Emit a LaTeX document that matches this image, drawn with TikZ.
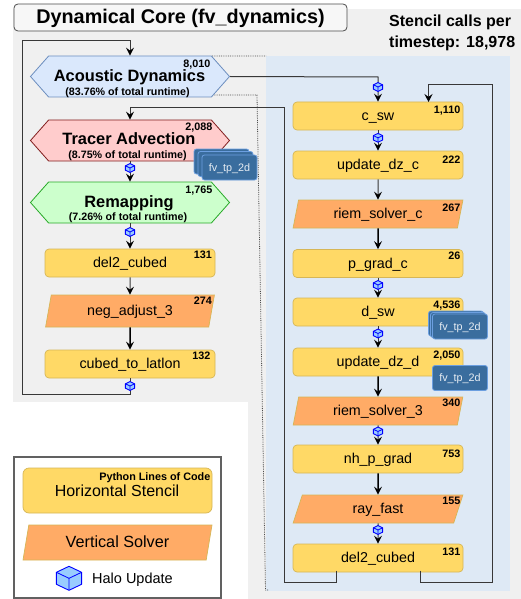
\documentclass[tikz,border=0pt]{standalone}
\usepackage{fontspec}
\setmainfont{Liberation Sans}
\usetikzlibrary{arrows.meta,shapes.geometric,shapes.symbols}
\definecolor{bgG}{HTML}{F0F0F0}
\definecolor{bgB}{HTML}{DEE9F5}
\definecolor{yel}{HTML}{FFD966}
\definecolor{yelS}{HTML}{D6B656}
\definecolor{ora}{HTML}{FFAB66}
\definecolor{fvF}{HTML}{3A6D9E}
\definecolor{fvS}{HTML}{6C9FE0}
\definecolor{cubeF}{HTML}{99CCFF}
\definecolor{cubeS}{HTML}{0000FF}
\definecolor{acF}{HTML}{DAE8FC}
\definecolor{acS}{HTML}{6C8EBF}
\definecolor{trF}{HTML}{FFCCCC}
\definecolor{trS}{HTML}{821E1E}
\definecolor{reF}{HTML}{CCFFCC}
\definecolor{reS}{HTML}{28AA28}
\newcommand{\fsz}[1]{\fontsize{#1}{#1}\selectfont}
\tikzset{
  x=1pt,y=-1pt,
  hstencil/.style={rectangle,rounded corners=4pt,draw=yelS,fill=yel,line width=.7pt,minimum width=170pt,minimum height=28pt,inner sep=0pt,font=\fsz{14.3},text height=9.5pt,text depth=0pt},
  vsolver/.style={trapezium,trapezium left angle=72,trapezium right angle=108,trapezium stretches=true,draw=yelS,fill=ora,line width=.7pt,minimum width=170pt,minimum height=28pt,inner sep=0pt,font=\fsz{14.3},text height=9.5pt,text depth=0pt},
  hexa/.style={signal,signal to=west and east,signal pointer angle=97,line width=.8pt,minimum width=199pt,minimum height=41pt,inner sep=0pt},
  hexlabel/.style={font=\bfseries\fsz{16.4},inner sep=0pt,text height=11.5pt,text depth=0pt},
  runtime/.style={font=\bfseries\fsz{10.7},inner sep=0pt,text height=7.5pt,text depth=0pt},
  count/.style={font=\bfseries\fsz{10.8},anchor=east,inner sep=0pt,text height=7.5pt,text depth=0pt},
  fvcard/.style={rectangle,rounded corners=2.5pt,draw=fvS,fill=fvF,line width=.8pt,minimum width=55pt,minimum height=25pt,inner sep=0pt,text=white!88!fvF,font=\fsz{10.8},text height=7.5pt,text depth=0pt},
  conn/.style={draw=black!78,line width=1pt,-{Stealth[length=8pt,width=8pt,inset=3pt,color=black]}},
  thickconn/.style={draw=black,line width=1.5pt,-{Stealth[length=8pt,width=8pt,inset=3pt,color=black]}},
  halo/.pic={
    \draw[draw=cubeS,fill=cubeF,line width=.9pt,line join=round] (0,-1)--(.87,-.5)--(.87,.5)--(0,1)--(-.87,.5)--(-.87,-.5)--cycle;
    \draw[draw=cubeS,line width=.8pt,line join=round] (-.87,-.5)--(0,0)--(.87,-.5) (0,0)--(0,1);
  }
}
\begin{document}
\begin{tikzpicture}
\useasboundingbox (0,0) rectangle (521,599);
% backgrounds
\fill[bgG] (13,9) rectangle (521,402);
\fill[bgG] (248,402) rectangle (521,599);
\fill[bgB] (266,56) rectangle (510,591);
\node[draw=black!70,fill=white!97!black,rounded corners=4pt,line width=.8pt,minimum width=333pt,minimum height=27pt,inner sep=0pt,font=\bfseries\fsz{19.8},text height=13pt,text depth=0pt] (title) at (180.5,17.5) {Dynamical Core (fv\_dynamics)};
\node[anchor=north west,align=left,inner sep=0pt,font=\bfseries\fsz{16}] (stencils) at (389,15) {Stencil calls per\\[4.6pt]timestep: 18,978};
% dotted outline of the zoom
\coordinate (dotA) at (212,56); \coordinate (dotB) at (266,56);
\coordinate (dotC) at (212,95); \coordinate (dotD) at (257,95); \coordinate (dotE) at (265.5,590); \coordinate (dotF) at (268,590);
\draw[black!70,densely dotted,line width=.8pt] (dotA)--(dotB) (dotC)--(dotD)--(dotE)--(dotF);
% left column
\node[hexa,draw=acS,fill=acF] (acoustic) at (130,76.5) {};
\node[hexa,draw=trS,fill=trF] (tracer) at (130,140.5) {};
\node[hexa,draw=reS,fill=reF] (remap) at (130,202.5) {};
\node[hexlabel] (acousticT) at (129.5,76) {Acoustic Dynamics};
\node[hexlabel] (tracerT) at (129,138.5) {Tracer Advection};
\node[hexlabel] (remapT) at (129,201.5) {Remapping};
\node[runtime] (acousticR) at (127.5,92.2) {(83.76\% of total runtime)};
\node[runtime] (tracerR) at (127.5,155.2) {(8.75\% of total runtime)};
\node[runtime] (remapR) at (128,217.2) {(7.26\% of total runtime)};
\node[count] (acousticN) at (210.5,63.5) {8,010};
\node[count] (tracerN) at (212.5,127) {2,088};
\node[count] (remapN) at (212.5,190.2) {1,765};
\node[hstencil] (del) at (130,263) {del2\_cubed};
\node[vsolver,minimum height=32pt] (neg) at (130,311) {neg\_adjust\_3};
\node[hstencil] (latlon) at (130,364) {cubed\_to\_latlon};
\node[count] (delN) at (212,255.2) {131};
\node[count] (negN) at (212,301.2) {274};
\node[count] (latlonN) at (210.5,356.2) {132};
% right column
\node[hstencil] (csw) at (378,116) {c\_sw};
\node[hstencil] (udzc) at (378,165) {update\_dz\_c};
\node[vsolver] (riemc) at (378,214) {riem\_solver\_c};
\node[hstencil] (pgrad) at (378,263.5) {p\_grad\_c};
\node[hstencil] (dsw) at (378,312) {d\_sw};
\node[hstencil] (udzd) at (378,362) {update\_dz\_d};
\node[vsolver] (riem3) at (378,411) {riem\_solver\_3};
\node[hstencil] (nh) at (378,459) {nh\_p\_grad};
\node[vsolver] (ray) at (378,509) {ray\_fast};
\node[hstencil] (delr) at (378,558) {del2\_cubed};
\node[count] (cswN) at (460.5,110.2) {1,110};
\node[count] (udzcN) at (460.5,159.5) {222};
\node[count] (riemcN) at (460.5,207.3) {267};
\node[count] (pgradN) at (460.5,256.2) {26};
\node[count] (dswN) at (460.5,305.2) {4,536};
\node[count] (udzdN) at (460.5,354.5) {2,050};
\node[count] (riem3N) at (460.5,403) {340};
\node[count] (nhN) at (460.5,453.5) {753};
\node[count] (rayN) at (460.5,500.3) {155};
\node[count] (delrN) at (460.5,551.3) {131};
% connector corners
\coordinate (loopA) at (22,394); \coordinate (loopB) at (22,41); \coordinate (loopC) at (130,41);
\coordinate (outR) at (378,77);
\coordinate (retA) at (336,570.5); \coordinate (retB) at (336,582); \coordinate (retC) at (284,582); \coordinate (retD) at (284,108); \coordinate (retE) at (130,108);
\coordinate (recA) at (420.5,570.5); \coordinate (recB) at (420.5,582); \coordinate (recC) at (492,582); \coordinate (recD) at (492,84.5); \coordinate (recE) at (428.5,84.5); \coordinate (recF) at (428.5,102);
\coordinate (latB) at (130,394);
% connectors
\draw[conn] (latlon.south) -- (latB) -- (loopA) -- (loopB) -- (loopC) -- (acoustic.north);
\draw[conn] (acoustic.east) -- (outR) -- (csw.north);
\draw[conn] (retA) -- (retB) -- (retC) -- (retD) -- (retE) -- (tracer.north);
\draw[conn] (recA) -- (recB) -- (recC) -- (recD) -- (recE) -- (recF);
\draw[conn] (tracer.south) -- (remap.north);
\draw[conn] (remap.south) -- (del.north);
\draw[conn] (del.south) -- (neg.north);
\draw[thickconn] (neg.south) -- (latlon.north);
\draw[conn] (csw.south) -- (udzc.north);
\draw[conn] (udzc.south) -- (riemc.north);
\draw[thickconn] (riemc.south) -- (pgrad.north);
\draw[conn] (pgrad.south) -- (dsw.north);
\draw[conn] (dsw.south) -- (udzd.north);
\draw[thickconn] (udzd.south) -- (riem3.north);
\draw[conn] (riem3.south) -- (nh.north);
\draw[thickconn] (nh.south) -- (ray.north);
\draw[conn] (ray.south) -- (delr.north);
% halo cubes
\foreach \cx/\cy in {130/168,130/232,130/386,378/87,378/137.8,378/285,378/333.5,378/431.5,378/530}
  \pic[xscale=5.3,yscale=4.4] at (\cx,\cy) {halo};
% fv_tp_2d cards
\node[fvcard] (fvA) at (221.5,161.5) {};
\node[fvcard] (fvB) at (225.5,164) {};
\node[fvcard] (fvC) at (229.5,167.5) {fv\_tp\_2d};
\node[fvcard] (fvD) at (456,323.5) {};
\node[fvcard] (fvE) at (458,325) {};
\node[fvcard] (fvF) at (460,326.5) {fv\_tp\_2d};
\node[fvcard] (fvG) at (460,378) {fv\_tp\_2d};
% legend
\node[draw=black!62,line width=1.2pt,fill=white,minimum width=207pt,minimum height=141pt,inner sep=0pt] (legend) at (117.5,527.5) {};
\node[hstencil,minimum width=189pt,minimum height=45pt,rounded corners=6pt] (legS) at (117.5,490.5) {};
\node[inner sep=0pt,font=\fsz{16},text height=11pt,text depth=0pt] (legST) at (117,490.5) {Horizontal Stencil};
\node[count] (legN) at (210.5,476.3) {Python Lines of Code};
\node[vsolver,minimum width=189pt,minimum height=35pt,font=\fsz{16.2},text height=10.4pt] (legV) at (117.5,542.5) {Vertical Solver};
\pic[xscale=14.5,yscale=12] at (69,578.3) {halo};
\node[anchor=west,inner sep=0pt,font=\fsz{14.5},text height=10pt,text depth=0pt] (legH) at (92,578.3) {Halo Update};
\end{tikzpicture}
\end{document}
